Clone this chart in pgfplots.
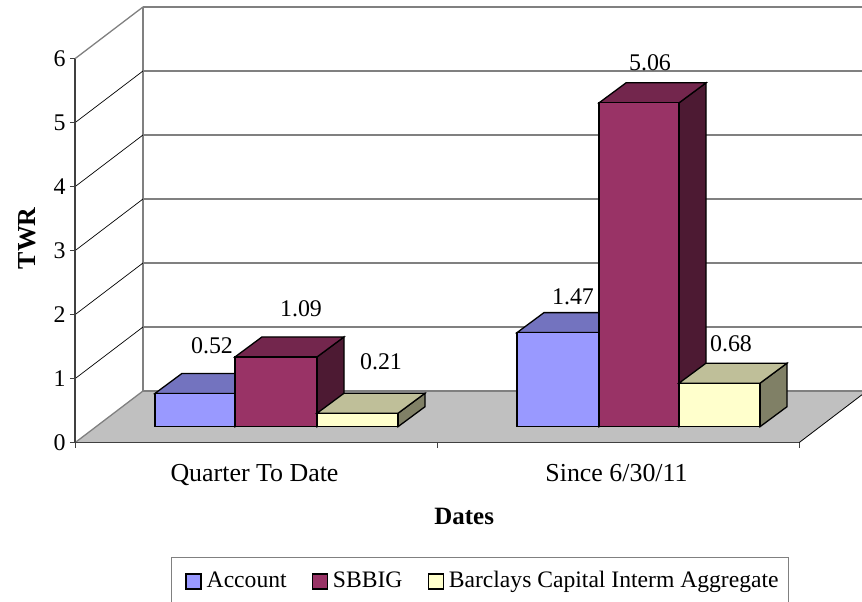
\documentclass[border=0pt]{standalone}
\usepackage{fontspec}
\setmainfont{Liberation Serif}
\usepackage{pgfplots}
\pgfplotsset{compat=1.18}
\definecolor{wallgray}{HTML}{808080}
\definecolor{floorgray}{HTML}{C0C0C0}
\definecolor{aF}{HTML}{9999FF}\definecolor{aT}{HTML}{7373BF}\definecolor{aS}{HTML}{4D4D80}
\definecolor{bF}{HTML}{993366}\definecolor{bT}{HTML}{73264D}\definecolor{bS}{HTML}{4D1A33}
\definecolor{cF}{HTML}{FFFFCC}\definecolor{cT}{HTML}{BFBF99}\definecolor{cS}{HTML}{808066}
\newcommand\Bar[6]{%
  \pgfmathsetmacro\xa{#1}\pgfmathsetmacro\xb{#2}%
  \pgfmathsetmacro\xc{#1+27}\pgfmathsetmacro\xd{#2+27}%
  \pgfmathsetmacro\ya{0.25}\pgfmathsetmacro\yb{0.25+#3}%
  \pgfmathsetmacro\yc{0.25+0.3125}\pgfmathsetmacro\yd{0.25+#3+0.3125}%
  \addplot[fill=#6,draw=black,line width=1.3bp,forget plot] coordinates {(\xb,\ya) (\xd,\yc) (\xd,\yd) (\xb,\yb)} -- cycle;
  \addplot[fill=#5,draw=black,line width=1.3bp,forget plot] coordinates {(\xa,\yb) (\xc,\yd) (\xd,\yd) (\xb,\yb)} -- cycle;
  \addplot[fill=#4,draw=black,line width=1.3bp,forget plot] coordinates {(\xa,\ya) (\xb,\ya) (\xb,\yb) (\xa,\yb)} -- cycle;
}
\begin{document}
\begin{tikzpicture}[x=1bp,y=1bp]
\path[use as bounding box] (0,0) rectangle (862,602);
\begin{axis}[
  at={(75bp,159.3bp)},anchor=origin,
  scale only axis,width=724bp,height=384bp,
  xmin=75,xmax=799,ymin=0,ymax=6,clip=false,
  axis x line=bottom,axis y line=left,
  axis line style={-,draw=black!75,line width=1.1bp},
  axis on top,
  xtick={75,437,799},xticklabels={Quarter To Date,Since 6/30/11,},
  x tick label as interval,
  ytick={0,1,2,3,4,5,6},
  tick align=outside,
  tick style={draw=black!75,line width=1bp},
  major tick length=5bp,
  ticklabel style={font=\fontsize{24}{28}\selectfont},
  /pgf/number format/assume math mode=true,
  yticklabel style={xshift=-1bp},
  xticklabel style={font=\fontsize{26}{28}\selectfont,yshift=-13bp,xshift=-1.5bp},
  xlabel={\textbf{Dates}},
  ylabel={\textbf{TWR}},
  xlabel style={font=\fontsize{25}{28}\selectfont,at={(axis description cs:0.5376,-0.1927)},anchor=center},
  ylabel style={font=\fontsize{26}{28}\selectfont,at={(axis description cs:-0.0663,0.5325)},anchor=center,rotate=0},
  legend columns=3,
  legend cell align=left,
  legend style={at={(axis cs:480,-1.78)},anchor=north,draw=wallgray,line width=1.2bp,fill=white,
    font=\fontsize{23.7}{28}\selectfont,
    inner xsep=8bp,inner ysep=12bp,
    /tikz/every odd column/.append style={column sep=3bp},
    /tikz/every even column/.append style={column sep=17bp}},
  legend image code/.code={\path (-6bp,0bp); \draw[#1] (0bp,-9bp) rectangle (15bp,6bp);},
]
% back wall
\addplot[fill=white,draw=none,forget plot] coordinates {(143,0.808) (862,0.808) (862,6.808) (143,6.808)} -- cycle;
% floor
\addplot[fill=floorgray,draw=none,forget plot] coordinates {(75,0) (799,0) (862,0.75) (862,0.808) (143,0.808)} -- cycle;
% back wall grid
\foreach \k in {0,...,6}{
  \edef\temp{\noexpand\addplot[draw=wallgray,line width=1.3bp,forget plot] coordinates {(143,\k.808) (862,\k.808)};}\temp
}
\addplot[draw=wallgray,line width=1.6bp,forget plot] coordinates {(143,0.808) (143,6.808)};
% left side wall lines
\addplot[draw=wallgray,line width=1.3bp,forget plot] coordinates {(75,0) (143,0.808)};
\addplot[draw=wallgray,line width=1.3bp,forget plot] coordinates {(75,6) (143,6.808)};
\foreach \k in {1,...,5}{
  \edef\temp{\noexpand\addplot[draw=black,line width=0.7bp,forget plot] coordinates {(75,\k) (143,\k.808)};}\temp
}
\addplot[draw=black,line width=0.8bp,forget plot] coordinates {(799,0) (862,0.75)};
% bars
\Bar{155}{235}{0.52}{aF}{aT}{aS}
\Bar{235}{317}{1.09}{bF}{bT}{bS}
\Bar{317}{398}{0.21}{cF}{cT}{cS}
\Bar{517}{599}{1.47}{aF}{aT}{aS}
\Bar{599}{679}{5.06}{bF}{bT}{bS}
\Bar{679}{760}{0.68}{cF}{cT}{cS}
\addlegendimage{fill=aF,draw=black,line width=1.3bp}\addlegendentry{Account}
\addlegendimage{fill=bF,draw=black,line width=1.3bp}\addlegendentry{SBBIG}
\addlegendimage{fill=cF,draw=black,line width=1.3bp}\addlegendentry{Barclays Capital Interm Aggregate}
\tikzset{v/.style={font=\fontsize{24}{28}\selectfont,inner sep=0pt}}
\node[v] at (axis cs:212,1.52) {0.52};
\node[v] at (axis cs:301,2.09) {1.09};
\node[v] at (axis cs:381,1.27) {0.21};
\node[v] at (axis cs:573,2.28) {1.47};
\node[v] at (axis cs:650,5.93) {5.06};
\node[v] at (axis cs:731,1.54) {0.68};
\end{axis}
\end{tikzpicture}
\end{document}
